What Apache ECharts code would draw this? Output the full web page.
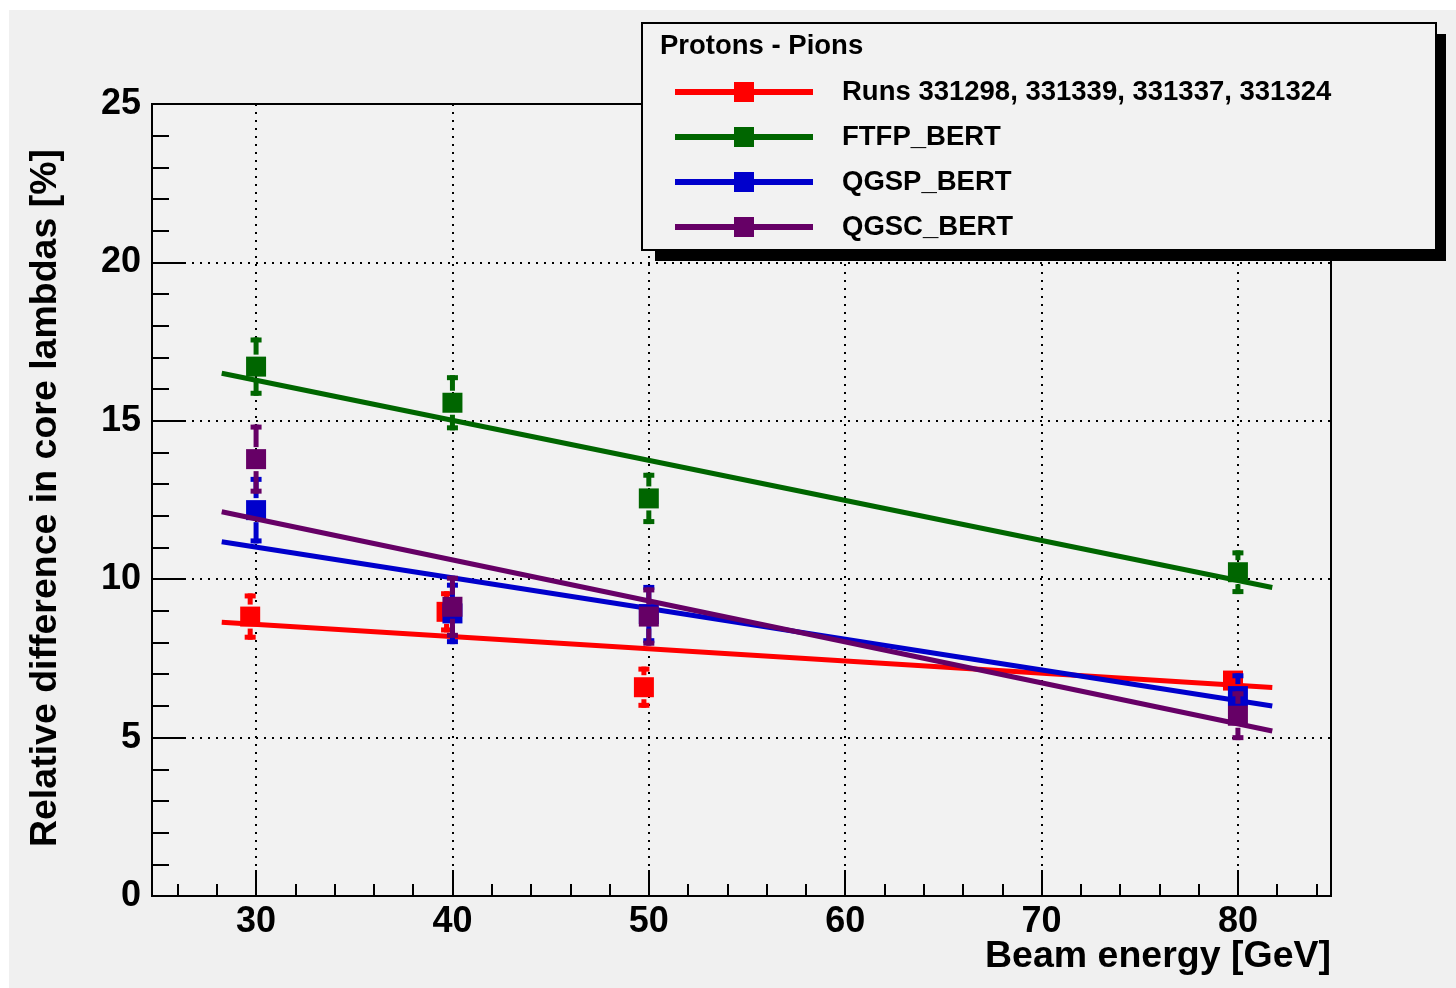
<!DOCTYPE html>
<html>
<head>
<meta charset="utf-8">
<script src="https://cdn.jsdelivr.net/npm/echarts@6/dist/echarts.min.js"></script>
<style>
  html, body { margin: 0; padding: 0; background: #ffffff; }
  #chart {
    width: 1456px; height: 988px;
    background: linear-gradient(#f0f0f0, #f0f0f0) 9px 10px / 1447px 978px no-repeat, #ffffff;
  }
</style>
</head>
<body>
<div id="chart"></div>
<script>
// ---------------- data ----------------
const seriesNames = ['Runs 331298, 331339, 331337, 331324', 'FTFP_BERT', 'QGSP_BERT', 'QGSC_BERT'];
const seriesColors = ['#ff0000', '#006600', '#0000cc', '#660066'];

const energyTicks = [30, 40, 50, 60, 70, 80];
const energyMinorTicks = [26, 28, 32, 34, 36, 38, 42, 44, 46, 48, 52, 54, 56, 58, 62, 64, 66, 68, 72, 74, 76, 78, 82, 84];

const modelEnergies = [30, 40, 50, 80];
const dataEnergies = [29.7, 39.7, 49.75, 79.75];

const runsValues = [8.82, 8.97, 6.59, 6.80];
const runsErrors = [0.73, 0.65, 0.65, 0.25];
const ftfpValues = [16.71, 15.57, 12.55, 10.22];
const ftfpErrors = [0.92, 0.87, 0.81, 0.69];
const qgspValues = [12.18, 8.92, 8.90, 6.31];
const qgspErrors = [1.05, 0.97, 0.92, 0.72];
const qgscValues = [13.79, 9.13, 8.82, 5.69];
const qgscErrors = [1.09, 0.98, 0.92, 0.77];

const fitEnergies = [28.25, 81.75];
const runsFit = [8.64, 6.58];
const ftfpFit = [16.50, 9.74];
const qgspFit = [11.18, 6.00];
const qgscFit = [12.13, 5.21];

// ---------------- build ----------------
const FONT = "'Liberation Sans', Arial, Helvetica, sans-serif";
const pointSets = [
  { x: dataEnergies, y: runsValues, e: runsErrors, fit: runsFit },
  { x: modelEnergies, y: ftfpValues, e: ftfpErrors, fit: ftfpFit },
  { x: modelEnergies, y: qgspValues, e: qgspErrors, fit: qgspFit },
  { x: modelEnergies, y: qgscValues, e: qgscErrors, fit: qgscFit }
];

function errRender(color) {
  return function (params, api) {
    const x = api.value(0), y = api.value(1), e = api.value(2);
    const c = api.coord([x, y]);
    const t = api.coord([x, y + e]);
    const b = api.coord([x, y - e]);
    const h = 10, sw = 5, cw = 11, ch = 5, gap = 2;
    const style = { fill: color };
    const children = [];
    if (c[1] - h - gap > t[1]) {
      children.push({ type: 'rect', shape: { x: c[0] - sw / 2, y: t[1], width: sw, height: c[1] - h - gap - t[1] }, style });
      children.push({ type: 'rect', shape: { x: c[0] - cw / 2, y: t[1], width: cw, height: ch }, style });
    }
    if (b[1] > c[1] + h + gap) {
      children.push({ type: 'rect', shape: { x: c[0] - sw / 2, y: c[1] + h + gap, width: sw, height: b[1] - (c[1] + h + gap) }, style });
      children.push({ type: 'rect', shape: { x: c[0] - cw / 2, y: b[1] - ch, width: cw, height: ch }, style });
    }
    children.push({ type: 'rect', shape: { x: c[0] - h, y: c[1] - h, width: 2 * h, height: 2 * h }, style });
    return { type: 'group', children };
  };
}

const series = [];
// fit lines first (legend icons come from them)
pointSets.forEach((s, i) => {
  series.push({
    type: 'line',
    name: seriesNames[i],
    data: fitEnergies.map((x, k) => [x, s.fit[k]]),
    symbol: 'rect',
    showSymbol: false,
    lineStyle: { color: seriesColors[i], width: 5 },
    itemStyle: { color: seriesColors[i], borderWidth: 0 },
    z: 3 + i * 2,
    silent: true,
    animation: false
  });
});
pointSets.forEach((s, i) => {
  series.push({
    type: 'custom',
    name: seriesNames[i],
    data: s.x.map((x, k) => [x, s.y[k], s.e[k]]),
    encode: { x: 0, y: 1 },
    renderItem: errRender(seriesColors[i]),
    z: 2 + i * 2,
    silent: true,
    animation: false
  });
});

const chart = echarts.init(document.getElementById('chart'), null, { renderer: 'canvas' });
chart.setOption({
  animation: false,
  backgroundColor: 'transparent',
  grid: {
    left: 152, right: 125, top: 104, bottom: 92,
    show: true, backgroundColor: '#f2f2f2', borderColor: '#000', borderWidth: 2
  },
  xAxis: [
    {
      type: 'value', min: 24.7, max: 84.74, splitNumber: 6, position: 'bottom',
      axisLine: { show: true, lineStyle: { color: '#000', width: 2 } },
      axisTick: { show: true, inside: true, length: 26, customValues: energyTicks, lineStyle: { color: '#000', width: 2 } },
      axisLabel: {
        customValues: energyTicks, margin: 8,
        fontFamily: FONT, fontWeight: 'bold', fontSize: 36, color: '#000',
        formatter: v => (Math.abs(v % 10) < 1e-6 ? String(v) : '')
      },
      splitLine: { show: true, lineStyle: { color: '#000', width: 2, type: [2, 6] } }
    },
    {
      type: 'value', min: 24.7, max: 84.74, position: 'bottom',
      axisLine: { show: false },
      axisTick: { show: true, inside: true, length: 12, customValues: energyMinorTicks, lineStyle: { color: '#000', width: 2 } },
      axisLabel: { show: false },
      splitLine: { show: false }
    }
  ],
  yAxis: {
    type: 'value', min: 0, max: 25, interval: 5,
    axisLine: { show: true, lineStyle: { color: '#000', width: 2 } },
    axisTick: { show: true, inside: true, length: 33, lineStyle: { color: '#000', width: 2 } },
    minorTick: { show: true, splitNumber: 5, length: 17, lineStyle: { color: '#000', width: 2 } },
    axisLabel: { margin: 11, fontFamily: FONT, fontWeight: 'bold', fontSize: 36, color: '#000', padding: [4, 0, 0, 0] },
    splitLine: { show: true, lineStyle: { color: '#000', width: 2, type: [2, 6] } }
  },
  legend: {
    show: true, orient: 'vertical', left: 672, top: 78, padding: 0,
    itemWidth: 138, itemHeight: 25, itemGap: 17,
    selectedMode: false,
    data: seriesNames,
    lineStyle: { width: 6 },
    textStyle: { fontFamily: FONT, fontWeight: 'bold', fontSize: 27.5, color: '#000', padding: [0, 0, 0, 24] },
    z: 30
  },
  graphic: [
    { type: 'rect', z: 25, silent: true, shape: { x: 655, y: 34, width: 791, height: 227 }, style: { fill: '#000' } },
    { type: 'rect', z: 26, silent: true, shape: { x: 642, y: 23, width: 794, height: 227 }, style: { fill: '#f2f2f2', stroke: '#000', lineWidth: 2 } },
    { type: 'text', z: 27, silent: true, x: 660, y: 46, style: { text: 'Protons - Pions', fontFamily: FONT, fontWeight: 'bold', fontSize: 27.5, fill: '#000', align: 'left', verticalAlign: 'middle' } },
    { type: 'text', z: 27, silent: true, x: 1331, y: 957, style: { text: 'Beam energy [GeV]', fontFamily: FONT, fontWeight: 'bold', fontSize: 37.5, fill: '#000', align: 'right', verticalAlign: 'middle' } },
    { type: 'text', z: 27, silent: true, x: 46, y: 498, rotation: Math.PI / 2, style: { text: 'Relative difference in core lambdas [%]', fontFamily: FONT, fontWeight: 'bold', fontSize: 37.5, fill: '#000', align: 'center', verticalAlign: 'middle' } }
  ],
  series: series
});
</script>
</body>
</html>
